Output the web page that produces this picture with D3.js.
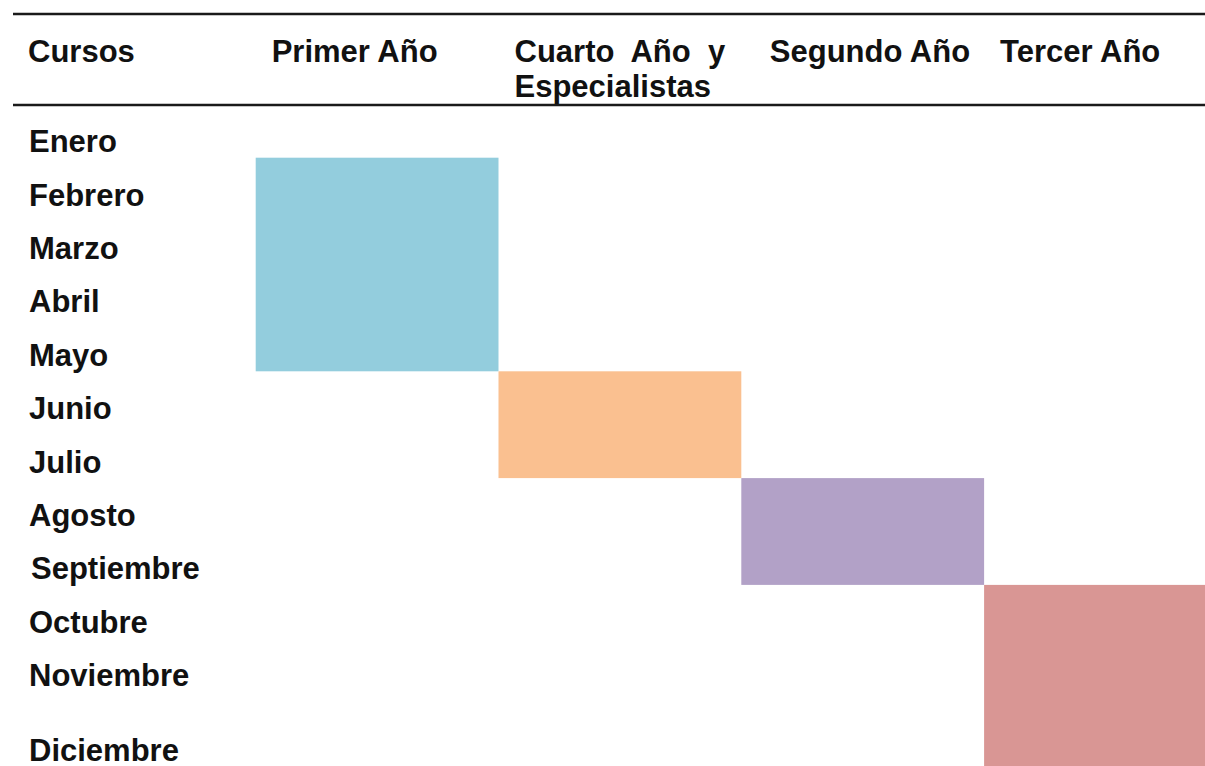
<!DOCTYPE html>
<html>
<head>
<meta charset="utf-8">
<script src="https://cdn.jsdelivr.net/npm/d3@7"></script>
<style>
  html, body { margin: 0; padding: 0; background: #fff; }
  svg text { font-family: "Liberation Sans", Arial, sans-serif; font-weight: bold; font-size: 31px; fill: #111; }
</style>
</head>
<body>
<svg id="chart" width="1205" height="766"></svg>
<script>
(function () {

	var months = ["Enero", "Febrero", "Marzo", "Abril", "Mayo", "Junio", "Julio",
		"Agosto", "Septiembre", "Octubre", "Noviembre", "Diciembre"];
	var courses = ["Primer Año", "Cuarto Año y Especialistas", "Segundo Año", "Tercer Año"];
	var headerLines = [["Primer Año"], ["Cuarto  Año  y", "Especialistas"], ["Segundo Año"], ["Tercer Año"]];
	var startMonth = ["Febrero", "Junio", "Agosto", "Octubre"];
	var endMonth = ["Mayo", "Julio", "Septiembre", "Diciembre"];
	var colors = ["#93cddd", "#fac090", "#b2a1c7", "#d99694"];

	drawChart();

	///////////////////////////

	function drawChart() {
		var svg = d3.select("#chart"),
			width = +svg.attr("width"),
			height = +svg.attr("height");

		// columns: one per course, the last one runs off the right edge
		var x = d3.scaleBand()
			.domain(courses)
			.range([255.7, 255.7 + 4 * 242.8]);

		// rows: top edge of each month, last row stretches to the bottom
		var rowTop = d3.scaleLinear()
			.domain([0, 1])
			.range([104.3, 104.3 + 53.4]);
		function top(m) { return rowTop(months.indexOf(m)); }
		function bottom(m) {
			var i = months.indexOf(m);
			return i === months.length - 1 ? height : rowTop(i + 1);
		}

		var spans = courses.map(function (c, i) {
			return {course: c, start: startMonth[i], end: endMonth[i], color: colors[i]};
		});

		svg.selectAll(".span")
			.data(spans)
			.enter().append("rect")
			.attr("class", "span")
			.attr("x", function (d) { return x(d.course); })
			.attr("width", x.bandwidth())
			.attr("y", function (d) { return top(d.start); })
			.attr("height", function (d) { return bottom(d.end) - top(d.start); })
			.attr("fill", function (d) { return d.color; });

		// header rules
		svg.selectAll(".rule")
			.data([14, 105])
			.enter().append("line")
			.attr("class", "rule")
			.attr("x1", 13).attr("x2", width)
			.attr("y1", function (d) { return d; })
			.attr("y2", function (d) { return d; })
			.attr("stroke", "#1a1a1a")
			.attr("stroke-width", 2.5);

		svg.append("text")
			.attr("x", 28)
			.attr("y", 62)
			.text("Cursos");

		var head = svg.selectAll(".head")
			.data(courses)
			.enter().append("text")
			.attr("class", "head")
			.attr("xml:space", "preserve")
			.attr("x", function (d) { return x(d) + (d === "Segundo Año" ? 28.5 : 16); })
			.attr("y", 62);

		head.selectAll("tspan")
			.data(function (d, i) { return headerLines[i].map(function (t) { return {t: t, x: x(d) + (d === "Segundo Año" ? 28.5 : 16)}; }); })
			.enter().append("tspan")
			.attr("x", function (d) { return d.x; })
			.attr("dy", function (d, i) { return i === 0 ? 0 : 34.5; })
			.text(function (d) { return d.t; });

		svg.selectAll(".month")
			.data(months)
			.enter().append("text")
			.attr("class", "month")
			.attr("x", function (d) { return d === "Septiembre" ? 31 : 29; })
			.attr("y", function (d) { return bottom(d) - 5.5; })
			.text(function (d) { return d; });
	}

})();
</script>
</body>
</html>
